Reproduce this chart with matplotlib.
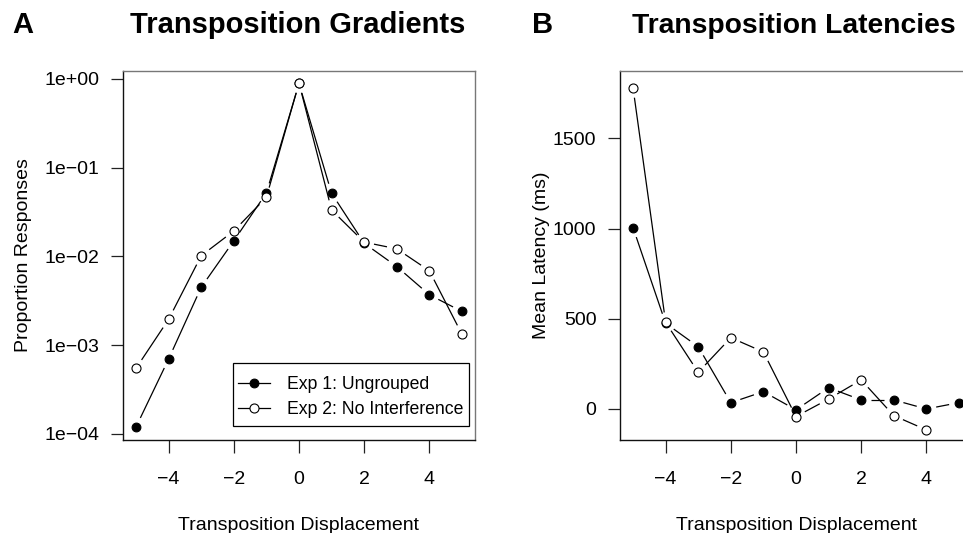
import numpy as np
import matplotlib
matplotlib.use("Agg")
import matplotlib.pyplot as plt
from matplotlib.lines import Line2D
from matplotlib.patches import Rectangle

plt.rcParams['font.family'] = ['Liberation Sans', 'DejaVu Sans']

# --- data ---
displacement = [-5, -4, -3, -2, -1, 0, 1, 2, 3, 4, 5]
exp1_prop = [1.2e-4, 7.0e-4, 4.5e-3, 0.015, 0.052, 0.89, 0.0515, 0.0141, 0.0077, 0.0037, 0.0024]
exp2_prop = [5.5e-4, 1.96e-3, 0.0102, 0.0194, 0.0465, 0.90, 0.0334, 0.0145, 0.0122, 0.0069, 0.00133]
exp1_lat = [1005, 475, 345, 35, 96, -5, 118, 50, 50, 0, 35]
exp2_lat = [1780, 480, 203, 395, 316, -42, 55, 161, -37, -116, np.nan]
labels = ["Exp 1: Ungrouped", "Exp 2: No Interference"]

W, H = 963, 533
FS = 14
fig = plt.figure(figsize=(W / 100, H / 100), dpi=100)


def gapped_line(ax, x, y, gap=10):
    # R type="b": segments stop short of the points
    pts = ax.transData.transform(np.column_stack([x, y]))
    inv = ax.transData.inverted()
    for p0, p1 in zip(pts[:-1], pts[1:]):
        if np.any(np.isnan(p0)) or np.any(np.isnan(p1)):
            continue
        d = p1 - p0
        L = np.hypot(*d)
        if L <= 2 * gap:
            continue
        a = p0 + d / L * gap
        b = p1 - d / L * gap
        seg = inv.transform(np.array([a, b]))
        ax.plot(seg[:, 0], seg[:, 1], color='black', lw=0.9,
                solid_capstyle='butt', clip_on=False, zorder=2)


def style_axes(ax):
    for s in ['top', 'right']:
        ax.spines[s].set_color('#777777')
    for s in ['left', 'bottom']:
        ax.spines[s].set_color('#111111')
    for s in ax.spines.values():
        s.set_linewidth(1.0)
    ax.tick_params(direction='out', length=9, width=0.9, color='#222222',
                   labelsize=FS, pad=8)
    ax.set_xticks([-4, -2, 0, 2, 4])
    ax.set_xticklabels(['\u22124', '\u22122', '0', '2', '4'])
    ax.tick_params(axis='x', pad=13)
    ax.set_xlim(-5.4, 5.4)


def draw_points(ax, x, y, filled):
    ax.plot(x, y, ls='none', marker='o', ms=6.3 if filled else 6.5,
            mfc='black' if filled else 'white', mec='black', mew=0.8,
            clip_on=False, zorder=3)


AX_H = 369
XLAB_Y = -(530 - 440) / AX_H

# ---- Panel A ----
axA = fig.add_axes([123 / W, 93 / H, 352 / W, AX_H / H])
axA.set_yscale('log')
axA.set_ylim(10 ** -4.068, 10 ** 0.09)
style_axes(axA)
axA.set_yticks([1e-4, 1e-3, 1e-2, 1e-1, 1])
axA.set_yticklabels(['1e\u221204', '1e\u221203', '1e\u221202', '1e\u221201', '1e+00'])
axA.minorticks_off()
for ys, filled in [(exp1_prop, True), (exp2_prop, False)]:
    gapped_line(axA, displacement, ys)
    draw_points(axA, displacement, ys, filled)
axA.set_ylabel("Proportion Responses", fontsize=FS)
axA.yaxis.set_label_coords(-(123 - 32) / 352, 0.5)
axA.set_xlabel("Transposition Displacement", fontsize=FS)
axA.xaxis.set_label_coords(0.5, XLAB_Y)
axA.xaxis.label.set_va('baseline')

handles = [Line2D([], [], color='black', lw=0.9, marker='o', ms=6.3,
                  mfc='black', mec='black', mew=0.8),
           Line2D([], [], color='black', lw=0.9, marker='o', ms=6.5,
                  mfc='white', mec='black', mew=0.8)]
leg = axA.legend(handles, labels, loc='upper left',
                 bbox_to_anchor=(238 / W, 1 - 376 / H),
                 bbox_transform=fig.transFigure, fontsize=12.7,
                 frameon=False, handlelength=1.82, handletextpad=0.97,
                 borderpad=0, labelspacing=0.45, borderaxespad=0)
fig.add_artist(Rectangle((233 / W, 1 - 426 / H), (469 - 233) / W, (426 - 363) / H,
                         transform=fig.transFigure, fill=False,
                         edgecolor='black', lw=0.9))

# ---- Panel B ----
axB = fig.add_axes([620 / W, 93 / H, 352 / W, AX_H / H])
axB.set_ylim(-172, 1873)
style_axes(axB)
axB.set_yticks([0, 500, 1000, 1500])
for ys, filled in [(exp1_lat, True), (exp2_lat, False)]:
    gapped_line(axB, displacement, ys)
    draw_points(axB, displacement, ys, filled)
axB.set_ylabel("Mean Latency (ms)", fontsize=FS)
axB.yaxis.set_label_coords(-(620 - 550) / 352, 0.5)
axB.set_xlabel("Transposition Displacement", fontsize=FS)
axB.xaxis.set_label_coords((796 - 620) / 352, XLAB_Y)
axB.xaxis.label.set_va('baseline')

# ---- panel letters and titles ----
base = 1 - 33 / H
fig.text(12 / W, base, "A", fontsize=21, fontweight='bold', va='baseline')
fig.text(130 / W, base, "Transposition Gradients", fontsize=21,
         fontweight='bold', va='baseline')
fig.text(532 / W, base, "B", fontsize=21, fontweight='bold', va='baseline')
fig.text(632 / W, base, "Transposition Latencies", fontsize=20.3,
         fontweight='bold', va='baseline')

fig.savefig("out.png", dpi=100)
